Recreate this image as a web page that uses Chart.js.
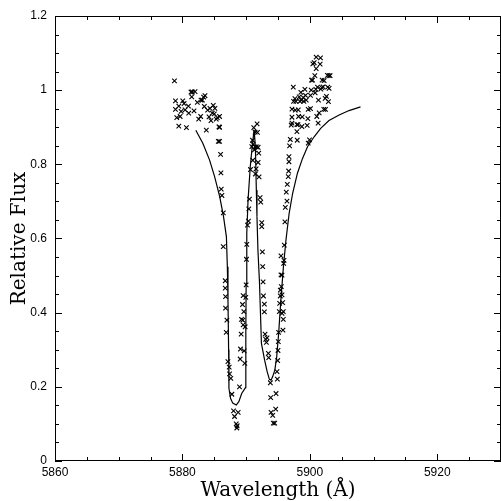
<!DOCTYPE html>
<html>
<head>
<meta charset="utf-8">
<script src="https://cdn.jsdelivr.net/npm/chart.js@4.4.1/dist/chart.umd.min.js"></script>
<style>
  html, body { margin: 0; padding: 0; background: #fff; overflow: hidden; }
</style>
</head>
<body>
<canvas id="fluxChart" width="501" height="501"></canvas>
<script>
// Observed spectrum (Na D region)
const obsWave = [
  5878.75, 5878.91, 5878.91, 5879.11, 5879.43, 5879.43, 5879.64, 5879.79, 5880.05, 5880.26,
  5880.42, 5880.63, 5880.94, 5880.99, 5881.35, 5881.46, 5881.56, 5881.82, 5881.98, 5882.34,
  5882.55, 5882.86, 5882.92, 5883.13, 5883.33, 5883.44, 5883.54, 5883.75, 5883.96, 5884.17,
  5884.32, 5884.48, 5884.69, 5884.84, 5885.00, 5885.10, 5885.31, 5885.47, 5885.73, 5885.83,
  5885.83, 5885.63, 5885.83, 5885.99, 5886.04, 5886.09, 5886.20, 5886.41, 5886.41, 5886.72,
  5886.72, 5886.77, 5886.77, 5886.98, 5886.88, 5887.14, 5887.34, 5887.40, 5887.60, 5887.76,
  5888.02, 5888.18, 5888.44, 5888.59, 5888.54, 5888.75, 5888.96, 5889.06, 5889.11, 5889.22,
  5889.27, 5889.43, 5889.53, 5889.64, 5889.48, 5889.53, 5889.69, 5889.79, 5889.84, 5889.95,
  5890.00, 5890.05, 5890.10, 5890.21, 5890.36, 5890.42, 5890.52, 5890.68, 5890.89, 5890.99,
  5891.09, 5891.04, 5891.20, 5891.30, 5891.41, 5891.41, 5891.46, 5891.56, 5891.61, 5891.72,
  5891.77, 5891.88, 5891.88, 5891.98, 5892.03, 5892.19, 5892.29, 5892.45, 5892.45, 5892.55,
  5892.60, 5892.66, 5892.71, 5892.86, 5892.86, 5892.97, 5893.07, 5893.18, 5893.28, 5893.49,
  5893.54, 5893.80, 5893.85, 5893.91, 5894.17, 5894.27, 5894.48, 5894.64, 5894.69, 5894.84,
  5894.90, 5894.95, 5895.00, 5895.05, 5895.10, 5895.21, 5895.26, 5895.36, 5895.36, 5895.47,
  5895.47, 5895.52, 5895.63, 5895.63, 5895.63, 5895.73, 5895.83, 5895.78, 5895.83, 5895.89,
  5895.94, 5895.99, 5896.09, 5896.15, 5896.30, 5896.41, 5896.46, 5896.61, 5896.67, 5896.72,
  5896.72, 5896.82, 5896.93, 5897.08, 5897.19, 5897.19, 5897.19, 5897.40, 5897.45, 5897.66,
  5897.71, 5897.81, 5897.97, 5897.97, 5898.02, 5898.13, 5898.18, 5898.23, 5898.33, 5898.44,
  5898.59, 5898.65, 5898.75, 5898.80, 5898.96, 5899.06, 5899.22, 5899.32, 5899.43, 5899.58,
  5899.69, 5899.74, 5899.74, 5899.95, 5900.10, 5900.10, 5900.21, 5900.26, 5900.42, 5900.47,
  5900.68, 5900.78, 5900.83, 5900.94, 5900.99, 5900.99, 5901.09, 5901.20, 5901.30, 5901.35,
  5901.46, 5901.61, 5901.67, 5901.72, 5901.88, 5901.93, 5902.08, 5902.19, 5902.24, 5902.40,
  5902.45, 5902.60, 5902.76, 5902.81, 5902.92, 5903.02, 5903.18, 5903.02
];
const obsFlux = [
  1.025, 0.971, 0.948, 0.926, 0.957, 0.903, 0.929, 0.943, 0.971, 0.964,
  0.947, 0.899, 0.957, 0.938, 0.995, 0.982, 0.995, 0.944, 0.996, 0.967,
  0.922, 0.929, 0.973, 0.973, 0.981, 0.956, 0.985, 0.892, 0.946, 0.928,
  0.951, 0.918, 0.938, 0.959, 0.936, 0.951, 0.922, 0.926, 0.901, 0.929,
  0.900, 0.862, 0.862, 0.827, 0.777, 0.733, 0.716, 0.669, 0.578, 0.486,
  0.466, 0.443, 0.412, 0.380, 0.347, 0.268, 0.253, 0.235, 0.223, 0.180,
  0.135, 0.120, 0.100, 0.095, 0.089, 0.131, 0.200, 0.275, 0.302, 0.342,
  0.382, 0.422, 0.446, 0.403, 0.380, 0.367, 0.297, 0.263, 0.362, 0.441,
  0.475, 0.544, 0.584, 0.636, 0.647, 0.680, 0.706, 0.786, 0.848, 0.865,
  0.854, 0.811, 0.899, 0.839, 0.847, 0.887, 0.774, 0.788, 0.847, 0.909,
  0.886, 0.846, 0.805, 0.830, 0.766, 0.710, 0.698, 0.643, 0.632, 0.564,
  0.524, 0.483, 0.445, 0.423, 0.402, 0.342, 0.328, 0.320, 0.332, 0.290,
  0.279, 0.211, 0.171, 0.131, 0.123, 0.102, 0.102, 0.140, 0.182, 0.241,
  0.221, 0.271, 0.298, 0.322, 0.347, 0.403, 0.425, 0.445, 0.461, 0.502,
  0.553, 0.470, 0.448, 0.501, 0.398, 0.427, 0.403, 0.353, 0.382, 0.533,
  0.541, 0.582, 0.645, 0.684, 0.725, 0.701, 0.746, 0.767, 0.782, 0.807,
  0.821, 0.850, 0.867, 0.906, 0.927, 0.949, 0.911, 1.008, 0.970, 0.977,
  0.946, 0.970, 0.888, 0.907, 0.865, 0.907, 0.947, 0.929, 0.982, 0.970,
  0.994, 0.973, 0.902, 0.928, 0.980, 0.970, 1.002, 0.986, 0.973, 0.905,
  0.923, 0.948, 0.857, 0.866, 0.950, 0.986, 1.000, 1.027, 1.027, 1.071,
  1.074, 1.039, 0.993, 1.002, 1.089, 1.058, 0.929, 1.008, 0.911, 0.973,
  0.939, 1.070, 1.087, 1.003, 1.007, 1.027, 1.009, 0.948, 1.026, 0.978,
  0.948, 0.983, 1.040, 1.008, 0.969, 1.039, 1.039, 1.005
];

// Model profile
const modelWave = [
  5882.1, 5883.2, 5884.25, 5885.05, 5885.85, 5886.45, 5886.9, 5887.05, 5887.15, 5887.25,
  5887.3, 5887.55, 5887.9, 5888.45, 5888.85, 5889.3, 5889.9, 5889.95, 5890.0, 5890.1,
  5890.3, 5890.65, 5890.95, 5891.25, 5891.45, 5891.6, 5891.7, 5891.85, 5892.1, 5892.4,
  5892.6, 5892.9, 5893.3, 5893.65, 5893.9, 5894.15, 5894.5, 5894.8, 5895.1, 5895.45,
  5895.85, 5896.25, 5896.75, 5897.3, 5898.05, 5898.85, 5899.65, 5900.7, 5901.7, 5903.0,
  5904.6, 5906.15, 5907.95
];
const modelFlux = [
  0.892, 0.857, 0.812, 0.767, 0.713, 0.659, 0.605, 0.524, 0.434, 0.300,
  0.196, 0.169, 0.156, 0.151, 0.160, 0.182, 0.198, 0.344, 0.479, 0.614,
  0.704, 0.794, 0.848, 0.893, 0.848, 0.731, 0.659, 0.569, 0.479, 0.317,
  0.299, 0.272, 0.241, 0.220, 0.218, 0.227, 0.245, 0.281, 0.344, 0.434,
  0.524, 0.596, 0.668, 0.722, 0.776, 0.816, 0.848, 0.875, 0.897, 0.918,
  0.933, 0.945, 0.955
];

const xMin = 5860, xMax = 5930, xStep = 20, xMinor = 5;
const yMin = 0, yMax = 1.2, yStep = 0.2, yMinor = 0.05;

const obsPoints = obsWave.map((w, i) => ({ x: w, y: obsFlux[i] }));
const modelPoints = modelWave.map((w, i) => ({ x: w, y: modelFlux[i] }));

// inward ticks on all four sides + frame (PGPLOT style box)
const frameTicks = {
  id: "frameTicks",
  afterDraw(chart) {
    const { ctx, chartArea: a, scales } = chart;
    const x = scales.x, y = scales.y;
    ctx.save();
    ctx.strokeStyle = "#000";
    ctx.lineWidth = 1;
    ctx.strokeRect(a.left + 0.5, a.top + 0.5, a.right - a.left - 1, a.bottom - a.top - 1);
    ctx.beginPath();
    for (let v = xMin; v <= xMax + 1e-6; v += xMinor) {
      const px = Math.round(x.getPixelForValue(v)) + 0.5;
      const len = Math.abs(v % xStep) < 1e-6 ? 7 : 4;
      ctx.moveTo(px, a.bottom); ctx.lineTo(px, a.bottom - len);
      ctx.moveTo(px, a.top); ctx.lineTo(px, a.top + len);
    }
    for (let i = 0; i <= Math.round((yMax - yMin) / yMinor); i++) {
      const v = yMin + i * yMinor;
      const py = Math.round(y.getPixelForValue(v)) + 0.5;
      const len = i % 4 === 0 ? 7 : 4;
      ctx.moveTo(a.left, py); ctx.lineTo(a.left + len, py);
      ctx.moveTo(a.right, py); ctx.lineTo(a.right - len, py);
    }
    ctx.stroke();
    ctx.restore();
  }
};

const tickFont = { family: "'Liberation Sans', Arial, sans-serif", size: 12 };
const titleFont = { family: "'DejaVu Serif', serif", size: 20 };

new Chart(document.getElementById("fluxChart"), {
  type: "scatter",
  data: {
    datasets: [
      {
        label: "Observed",
        data: obsPoints,
        pointStyle: "crossRot",
        pointRadius: 3.2,
        pointBorderWidth: 1.1,
        borderColor: "#000",
        backgroundColor: "#000"
      },
      {
        label: "Model",
        data: modelPoints,
        showLine: true,
        pointRadius: 0,
        borderColor: "#000",
        borderWidth: 1.2,
        tension: 0
      }
    ]
  },
  options: {
    responsive: false,
    animation: false,
    layout: { autoPadding: false, padding: { top: 16, right: 0, left: 0, bottom: 0 } },
    plugins: { legend: { display: false }, tooltip: { enabled: false } },
    scales: {
      x: {
        type: "linear",
        min: xMin,
        max: xMax,
        afterFit(scale) {
          scale.height = 40;
          scale.paddingLeft = 0;
          scale.paddingRight = 0;
        },
        grid: { display: false, drawTicks: false },
        border: { display: false },
        ticks: {
          stepSize: xStep,
          includeBounds: false,
          maxRotation: 0,
          padding: 4,
          color: "#000",
          font: tickFont,
          callback: v => (v % xStep === 0 ? String(v) : "")
        },
        title: {
          display: true,
          text: "Wavelength (Å)",
          color: "#000",
          font: titleFont,
          padding: { top: 0, bottom: -2 }
        }
      },
      y: {
        type: "linear",
        min: yMin,
        max: yMax,
        afterFit(scale) { scale.width = 55; },
        grid: { display: false, drawTicks: false },
        border: { display: false },
        ticks: {
          stepSize: yStep,
          padding: 8,
          color: "#000",
          font: tickFont,
          callback: v => String(Math.round(v * 10) / 10)
        },
        title: {
          display: true,
          text: "Relative Flux",
          color: "#000",
          font: titleFont,
          padding: { top: 8, bottom: 0 }
        }
      }
    }
  },
  plugins: [frameTicks]
});
</script>
</body>
</html>
